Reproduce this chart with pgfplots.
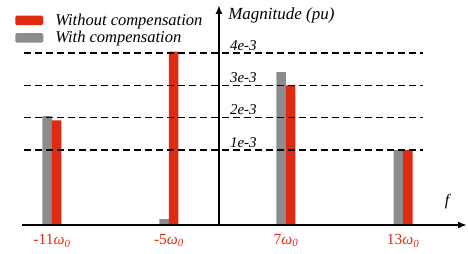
\documentclass[border=0pt]{standalone}
\usepackage{pgfplots}
\pgfplotsset{compat=1.18}
\usepackage{fontspec}
\setmainfont{Liberation Serif}
\usetikzlibrary{arrows.meta}
\definecolor{cred}{RGB}{221,42,17}
\definecolor{cgray}{RGB}{140,140,140}
\begin{document}
\begin{tikzpicture}[x=1pt,y=1pt,font=\fontsize{15}{18}\selectfont]
\useasboundingbox (0,0) rectangle (468,254);
\begin{axis}[
  at={(22pt,29pt)}, anchor=south west,
  scale only axis, width=445pt, height=220pt,
  xmin=-0.256, xmax=3.547, ymin=0, ymax=6.81,
  clip=false,
  axis line style={draw=none},
  ytick=\empty,
  xtick={0,1,2,3},
  xticklabels={{-11\textit{ω\textsubscript{0}}},{-5\textit{ω\textsubscript{0}}},{7\textit{ω\textsubscript{0}}},{13\textit{ω\textsubscript{0}}}},
  major tick length=0pt,
  xticklabel style={text=cred, font=\fontsize{15.5}{18}\selectfont, yshift=-6pt},
  y filter/.expression={y+1.32},
  reverse legend,
  legend image code/.code={\fill[#1,rounded corners=1.5pt] (0pt,-4.75pt) rectangle (28pt,4.75pt);},
  legend style={at={(axis description cs:-0.0155,0.965)}, anchor=north west,
    draw=none, fill=none, inner sep=0pt, row sep=2.5pt,
    font=\fontsize{16.5}{19}\selectfont\itshape,
    nodes={inner sep=1pt},
    /tikz/every odd column/.append style={column sep=11pt}},
  legend cell align=left,
]
\addplot[ybar, bar width=9.5pt, bar shift=-4.75pt, fill=cgray, draw=none]
  coordinates {(0,2.05) (1,-1.14) (2,3.41) (3,1.0)};
\addlegendentry{With compensation}
\addplot[ybar, bar width=9.5pt, bar shift=4.75pt, fill=cred, draw=none]
  coordinates {(0,1.92) (1,4.05) (2,3.0) (3,1.0)};
\addlegendentry{Without compensation}
\addplot[forget plot, black, line width=1.4pt, dash pattern=on 6.7pt off 4.3pt] coordinates {(-0.239,1) (3.171,1)};
\addplot[forget plot, black, line width=1.4pt, dash pattern=on 6.7pt off 4.3pt] coordinates {(-0.239,2) (3.171,2)};
\addplot[forget plot, black, line width=1.4pt, dash pattern=on 6.7pt off 4.3pt] coordinates {(-0.239,3) (3.171,3)};
\addplot[forget plot, black, line width=1.4pt, dash pattern=on 6.7pt off 4.3pt] coordinates {(-0.239,4) (3.171,4)};
\draw[line width=2pt, -{Latex[length=9pt,width=7pt]}] (axis cs:-0.256,0) -- (axis cs:3.547,0);
\draw[line width=2pt, -{Latex[length=9pt,width=7pt]}] (axis cs:1.427,0) -- (axis cs:1.427,6.81);
\node[anchor=west, inner sep=0pt, font=\fontsize{17}{20}\selectfont\itshape] at (axis cs:1.505,6.50) {Magnitude (pu)};
\node[anchor=base west, inner sep=0pt, font=\fontsize{15}{18}\selectfont\itshape] at (axis cs:1.52,2.41) {1e-3};
\node[anchor=base west, inner sep=0pt, font=\fontsize{15}{18}\selectfont\itshape] at (axis cs:1.52,3.41) {2e-3};
\node[anchor=base west, inner sep=0pt, font=\fontsize{15}{18}\selectfont\itshape] at (axis cs:1.52,4.41) {3e-3};
\node[anchor=base west, inner sep=0pt, font=\fontsize{15}{18}\selectfont\itshape] at (axis cs:1.52,5.41) {4e-3};
\node[inner sep=0pt, font=\fontsize{16}{19}\selectfont\itshape] at (axis cs:3.376,0.71) {f};
\end{axis}
\end{tikzpicture}
\end{document}
